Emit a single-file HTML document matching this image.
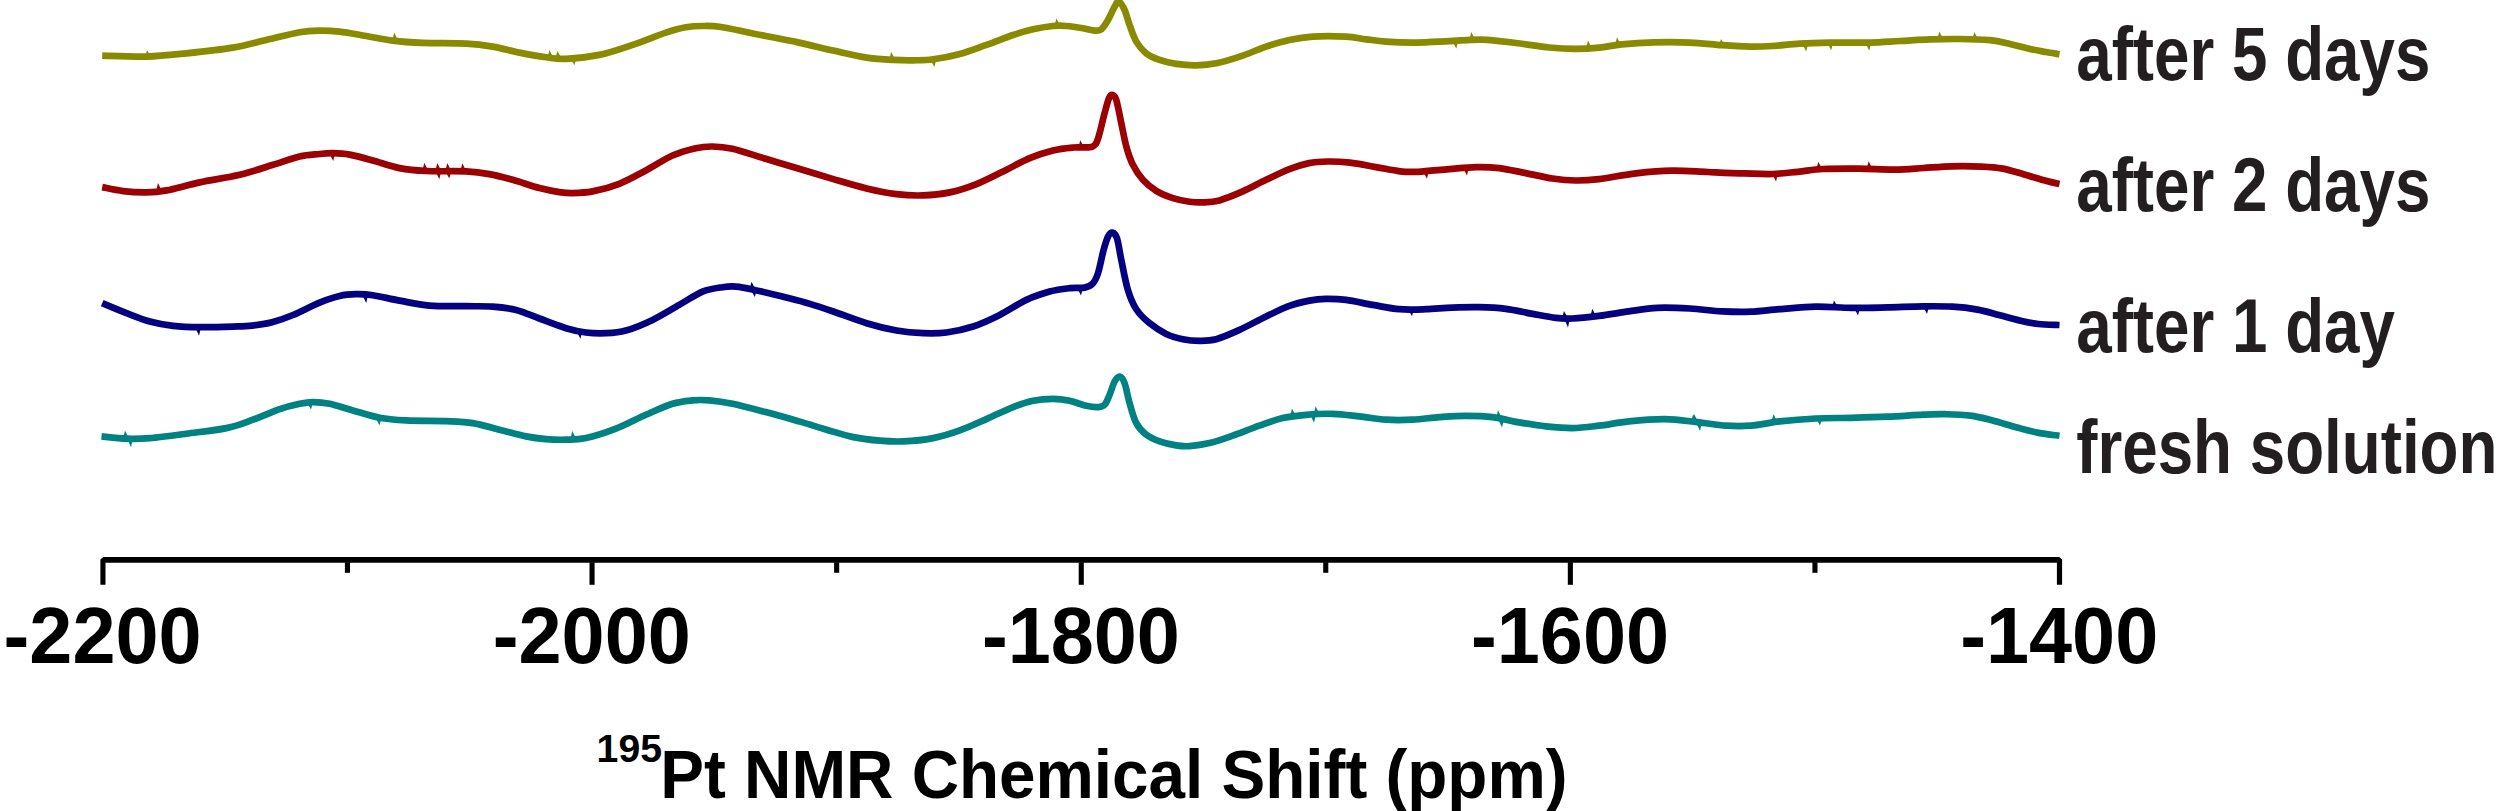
<!DOCTYPE html>
<html><head><meta charset="utf-8"><title>195Pt NMR</title>
<style>
html,body{margin:0;padding:0;background:#fff;}
body{width:2498px;height:811px;overflow:hidden;}
svg{display:block;}
text{font-family:"Liberation Sans",Arial,Helvetica,sans-serif;font-weight:bold;}
</style></head><body>
<svg width="2498" height="811" viewBox="0 0 2498 811">
<rect width="2498" height="811" fill="#fff"/>
<g id="curves">
<path d="M102.2 55.6C109.6 55.8 132.5 57.0 146.5 56.6C160.5 56.2 172.0 54.8 186.4 53.3C200.8 51.8 219.7 49.8 233.0 47.6C246.3 45.4 255.2 42.5 266.3 40.0C277.4 37.5 290.7 33.9 299.6 32.3C308.5 30.7 312.9 30.7 319.6 30.6C326.3 30.5 331.8 30.7 339.6 31.6C347.4 32.5 357.3 34.5 366.2 36.0C375.1 37.5 383.5 39.5 392.9 40.6C402.3 41.8 410.6 42.4 422.8 42.9C435.0 43.4 454.5 43.0 466.1 43.6C477.8 44.2 483.8 45.1 492.7 46.6C501.6 48.1 510.5 50.8 519.4 52.6C528.3 54.4 538.2 56.2 546.0 57.3C553.8 58.3 557.1 59.3 566.0 58.9C574.9 58.5 588.2 57.2 599.3 54.9C610.4 52.6 621.5 48.6 632.6 44.9C643.7 41.2 657.0 35.5 665.9 32.6C674.8 29.7 679.7 28.4 685.8 27.3C691.9 26.2 696.4 26.0 702.5 26.0C708.6 26.0 712.0 25.6 722.5 27.3C733.0 29.0 753.0 33.5 765.7 36.0C778.5 38.5 787.7 40.2 799.0 42.6C810.3 45.0 822.0 48.1 833.3 50.6C844.6 53.1 856.6 56.1 866.6 57.6C876.6 59.1 885.4 59.5 893.2 59.9C901.0 60.3 906.5 60.4 913.2 60.3C919.9 60.2 925.4 60.4 933.2 59.3C941.0 58.2 950.9 56.3 959.8 53.9C968.7 51.5 977.5 48.0 986.4 44.9C995.3 41.8 1005.3 37.6 1013.1 35.0C1020.9 32.4 1026.3 30.8 1033.0 29.3C1039.7 27.8 1047.5 26.6 1053.0 26.0C1058.5 25.4 1061.3 25.6 1066.3 26.0C1071.3 26.4 1078.3 27.5 1083.0 28.3C1087.7 29.1 1091.5 30.4 1094.6 30.6C1097.6 30.8 1099.1 31.1 1101.3 29.3C1103.5 27.5 1105.8 23.8 1108.0 20.0C1110.2 16.2 1112.8 9.8 1114.6 6.7C1116.4 3.6 1117.3 1.1 1119.0 1.7C1120.7 2.2 1122.8 6.1 1124.6 10.0C1126.4 13.9 1127.6 19.7 1129.6 25.0C1131.5 30.3 1133.5 36.9 1136.3 41.6C1139.1 46.3 1142.3 50.2 1146.2 53.3C1150.1 56.3 1154.6 58.1 1159.6 59.9C1164.6 61.7 1170.1 63.0 1176.2 63.9C1182.3 64.8 1189.5 65.4 1196.2 65.3C1202.9 65.2 1208.4 64.9 1216.2 63.3C1224.0 61.7 1234.5 58.4 1242.8 55.6C1251.1 52.8 1258.3 49.2 1266.1 46.6C1273.9 44.0 1281.6 41.7 1289.4 40.0C1297.2 38.3 1303.3 37.2 1312.7 36.6C1322.1 36.0 1337.1 36.2 1346.0 36.6C1354.9 37.0 1359.3 38.5 1366.0 39.3C1372.7 40.1 1377.7 41.0 1386.0 41.6C1394.3 42.2 1405.4 42.7 1415.9 42.6C1426.4 42.5 1438.1 41.7 1449.2 41.2C1460.3 40.7 1471.4 39.3 1482.5 39.6C1493.6 39.9 1504.7 41.7 1515.8 43.0C1526.9 44.3 1539.1 46.5 1549.1 47.5C1559.1 48.5 1567.4 48.9 1575.7 48.9C1584.0 48.9 1591.3 48.5 1599.0 47.7C1606.7 47.0 1612.4 45.3 1621.6 44.4C1630.8 43.5 1642.5 42.7 1653.9 42.4C1665.3 42.1 1678.5 42.1 1689.9 42.6C1701.3 43.1 1712.2 44.5 1722.2 45.2C1732.2 45.9 1741.7 46.5 1750.0 46.6C1758.3 46.7 1763.7 46.5 1772.0 46.0C1780.3 45.5 1790.3 44.2 1800.0 43.6C1809.7 43.0 1818.3 42.8 1830.0 42.6C1841.7 42.4 1858.3 42.9 1870.0 42.6C1881.7 42.3 1890.0 41.5 1900.0 41.0C1910.0 40.5 1920.0 39.7 1930.0 39.4C1940.0 39.1 1950.0 38.9 1960.0 39.0C1970.0 39.1 1981.7 39.4 1990.0 40.2C1998.3 41.0 2003.3 42.5 2010.0 44.0C2016.7 45.5 2024.0 47.7 2030.0 49.0C2036.0 50.3 2040.9 51.1 2045.8 52.0C2050.7 52.9 2057.2 53.8 2059.5 54.2" fill="none" stroke="#8a8a00" stroke-width="6.7" stroke-linejoin="round" stroke-linecap="butt"/>
<path d="M102.2 187.1C105.7 187.8 115.8 190.2 123.2 191.1C130.6 192.0 139.3 192.5 146.5 192.4C153.7 192.3 157.6 192.1 166.5 190.4C175.4 188.7 187.6 185.0 199.8 182.4C212.0 179.8 227.5 177.7 239.7 174.8C251.9 171.9 263.0 167.9 273.0 164.8C283.0 161.8 291.8 158.3 299.6 156.5C307.4 154.7 314.1 154.6 319.6 154.0C325.2 153.4 327.9 153.1 332.9 153.2C337.9 153.3 342.9 153.4 349.6 154.6C356.3 155.8 364.6 158.2 372.9 160.5C381.2 162.8 390.6 166.3 399.5 168.1C408.4 169.8 415.1 170.4 426.2 171.0C437.3 171.6 455.6 170.9 466.1 171.4C476.6 171.9 481.6 172.7 489.4 174.1C497.2 175.5 504.4 177.5 512.7 179.8C521.0 182.1 531.6 186.1 539.4 188.1C547.2 190.1 553.8 191.3 559.3 192.1C564.8 192.9 567.0 193.2 572.6 193.1C578.2 193.0 584.8 192.9 592.6 191.4C600.4 189.9 610.4 187.3 619.3 183.8C628.2 180.3 637.0 175.2 645.9 170.5C654.8 165.8 664.2 159.2 672.5 155.5C680.8 151.8 689.1 149.7 695.8 148.2C702.5 146.7 706.4 146.4 712.5 146.5C718.6 146.6 723.6 146.8 732.5 148.8C741.4 150.9 754.6 155.5 765.7 158.8C776.8 162.1 787.7 165.4 799.0 168.8C810.3 172.2 822.0 175.8 833.3 179.1C844.6 182.4 856.1 185.9 866.6 188.4C877.1 190.9 887.1 192.9 896.5 194.1C905.9 195.3 914.3 195.7 923.2 195.4C932.1 195.1 940.9 194.3 949.8 192.4C958.7 190.5 967.6 187.6 976.5 184.1C985.4 180.6 994.2 175.8 1003.1 171.5C1012.0 167.2 1021.4 161.6 1029.7 158.1C1038.0 154.6 1045.8 152.3 1053.0 150.5C1060.2 148.7 1066.8 148.1 1073.0 147.5C1079.2 146.9 1086.2 147.9 1090.0 147.2C1093.8 146.5 1094.4 145.8 1096.0 143.5C1097.6 141.2 1098.2 138.2 1099.6 133.2C1101.0 128.1 1103.0 119.0 1104.6 113.2C1106.2 107.4 1107.7 101.2 1109.0 98.2C1110.3 95.2 1111.1 94.6 1112.3 94.9C1113.5 95.2 1114.8 95.2 1116.3 99.9C1117.8 104.6 1119.6 115.4 1121.3 123.2C1123.0 131.0 1124.4 139.6 1126.3 146.5C1128.2 153.4 1130.1 159.2 1132.9 164.8C1135.7 170.4 1139.0 175.5 1142.9 179.8C1146.8 184.1 1151.2 187.8 1156.2 190.8C1161.2 193.9 1167.4 196.3 1172.9 198.1C1178.5 199.9 1184.5 201.1 1189.5 201.8C1194.5 202.5 1197.9 202.6 1202.9 202.4C1207.9 202.2 1212.8 202.2 1219.5 200.4C1226.2 198.6 1235.0 194.8 1242.8 191.4C1250.6 188.0 1258.3 183.5 1266.1 179.8C1273.9 176.1 1282.2 171.9 1289.4 169.1C1296.6 166.3 1302.6 164.4 1309.0 163.1C1315.4 161.8 1321.2 161.6 1328.0 161.5C1334.8 161.4 1342.0 161.8 1350.0 162.7C1358.0 163.6 1367.7 165.7 1376.0 167.1C1384.3 168.5 1393.0 170.5 1400.0 171.3C1407.0 172.1 1409.8 172.2 1418.0 171.8C1426.2 171.4 1439.5 169.9 1449.2 169.1C1458.9 168.3 1467.6 167.3 1475.9 167.1C1484.2 166.9 1490.9 167.1 1499.2 168.1C1507.5 169.1 1516.9 171.4 1525.8 173.1C1534.7 174.8 1544.1 177.3 1552.4 178.5C1560.7 179.7 1567.9 180.4 1575.7 180.5C1583.5 180.6 1589.0 180.3 1599.0 179.1C1609.0 177.9 1623.8 174.7 1636.0 173.3C1648.2 171.9 1659.9 170.8 1671.9 170.6C1683.9 170.4 1695.8 171.5 1707.8 172.0C1719.8 172.5 1733.0 173.1 1743.8 173.4C1754.6 173.7 1763.6 174.3 1772.6 174.0C1781.6 173.7 1789.3 172.6 1797.7 171.8C1806.1 171.0 1812.7 169.5 1822.9 169.0C1833.1 168.5 1846.8 168.5 1858.8 168.6C1870.8 168.7 1884.0 169.7 1894.8 169.6C1905.6 169.5 1913.9 168.6 1923.5 168.0C1933.1 167.4 1942.7 166.5 1952.3 166.3C1961.9 166.1 1972.7 166.2 1981.1 166.6C1989.5 167.0 1995.4 167.3 2002.6 168.6C2009.8 169.9 2017.0 172.4 2024.2 174.4C2031.4 176.4 2039.9 179.2 2045.8 180.8C2051.7 182.4 2057.2 183.6 2059.5 184.1" fill="none" stroke="#9b0003" stroke-width="6.7" stroke-linejoin="round" stroke-linecap="butt"/>
<path d="M102.2 303.2C106.2 304.9 118.6 310.1 126.5 313.2C134.4 316.2 142.0 319.4 149.8 321.5C157.6 323.6 164.8 324.9 173.1 325.9C181.4 326.8 189.8 327.1 199.8 327.2C209.8 327.3 224.4 326.9 233.1 326.6C241.8 326.3 245.5 326.3 252.0 325.6C258.5 324.9 265.2 324.1 272.0 322.3C278.8 320.5 285.1 318.3 293.0 315.0C300.9 311.7 311.8 305.8 319.6 302.6C327.4 299.4 333.5 297.3 339.6 295.9C345.7 294.5 350.6 294.3 356.2 294.2C361.8 294.1 365.7 294.1 372.9 295.2C380.1 296.3 390.1 298.9 399.5 300.6C408.9 302.3 418.4 304.7 429.5 305.6C440.6 306.5 455.6 306.0 466.1 306.2C476.6 306.4 484.4 306.0 492.7 306.6C501.0 307.2 508.3 307.9 516.1 309.9C523.9 311.9 531.1 315.4 539.4 318.5C547.7 321.6 558.2 325.9 566.0 328.2C573.8 330.5 579.4 331.7 586.0 332.5C592.6 333.3 599.2 333.5 605.9 333.2C612.5 332.9 618.1 332.7 625.9 330.5C633.7 328.3 643.7 324.2 652.6 319.9C661.5 315.6 670.9 309.6 679.2 304.9C687.5 300.2 695.3 294.6 702.5 291.6C709.7 288.7 717.0 288.0 722.5 287.2C728.0 286.4 730.8 286.2 735.8 286.6C740.8 287.0 744.6 287.7 752.4 289.4C760.2 291.1 773.0 294.2 782.4 296.6C791.8 299.0 800.5 301.1 809.0 303.6C817.5 306.1 823.7 308.2 833.3 311.5C842.9 314.8 856.1 320.0 866.6 323.2C877.1 326.4 887.1 328.8 896.5 330.5C905.9 332.2 914.9 332.9 923.2 333.2C931.5 333.5 938.2 333.6 946.5 332.5C954.8 331.4 964.2 329.4 973.1 326.5C982.0 323.6 990.9 319.3 999.8 314.9C1008.7 310.5 1018.1 303.8 1026.4 299.9C1034.7 296.0 1042.5 293.6 1049.7 291.6C1056.9 289.7 1063.9 288.9 1069.7 288.2C1075.5 287.5 1080.8 288.4 1084.7 287.6C1088.6 286.8 1090.8 285.6 1093.0 283.2C1095.2 280.8 1096.2 278.8 1098.0 273.3C1099.8 267.8 1101.9 256.1 1103.6 250.0C1105.3 243.9 1106.5 239.5 1108.0 236.6C1109.5 233.7 1110.8 232.3 1112.3 232.6C1113.8 232.9 1115.5 233.8 1117.0 238.3C1118.5 242.9 1119.5 251.3 1121.3 259.9C1123.1 268.5 1125.4 281.7 1127.9 289.9C1130.4 298.1 1132.7 303.6 1136.3 309.2C1139.9 314.8 1144.6 319.1 1149.6 323.2C1154.6 327.3 1160.7 331.2 1166.2 333.9C1171.8 336.6 1177.4 338.0 1182.9 339.2C1188.5 340.4 1194.0 340.8 1199.5 340.8C1205.0 340.8 1209.5 341.0 1216.2 339.2C1222.9 337.4 1231.2 333.7 1239.5 329.9C1247.8 326.1 1257.8 320.5 1266.1 316.5C1274.4 312.5 1282.2 308.5 1289.4 305.9C1296.6 303.2 1303.3 301.8 1309.4 300.6C1315.5 299.4 1319.9 299.0 1326.0 298.9C1332.1 298.8 1338.2 298.9 1346.0 299.9C1353.8 300.9 1363.7 303.3 1372.6 304.9C1381.5 306.4 1390.4 308.5 1399.3 309.2C1408.2 309.9 1417.0 309.5 1425.9 309.2C1434.8 308.9 1443.6 307.9 1452.5 307.6C1461.4 307.3 1470.3 307.0 1479.2 307.2C1488.1 307.4 1496.9 307.8 1505.8 308.9C1514.7 310.0 1524.2 312.4 1532.5 313.9C1540.8 315.4 1549.1 317.1 1555.8 317.9C1562.5 318.7 1565.2 318.8 1572.4 318.5C1579.6 318.2 1589.6 317.1 1599.0 315.9C1608.4 314.7 1619.0 312.8 1628.8 311.4C1638.5 310.0 1647.3 308.3 1657.5 307.8C1667.7 307.3 1679.1 307.9 1689.9 308.5C1700.7 309.1 1712.0 310.9 1722.2 311.4C1732.4 311.9 1741.4 312.1 1751.0 311.7C1760.6 311.3 1768.9 310.0 1779.7 309.2C1790.5 308.4 1803.7 306.9 1815.7 306.7C1827.7 306.5 1839.6 307.7 1851.6 307.8C1863.6 307.9 1875.6 307.6 1887.6 307.4C1899.6 307.1 1912.7 306.4 1923.5 306.3C1934.3 306.2 1943.3 306.1 1952.3 306.7C1961.3 307.2 1969.7 308.2 1977.5 309.6C1985.3 311.0 1991.8 313.1 1999.0 315.0C2006.2 316.9 2014.0 319.2 2020.6 320.7C2027.2 322.2 2032.1 323.3 2038.6 324.0C2045.1 324.7 2056.0 324.8 2059.5 325.0" fill="none" stroke="#04007f" stroke-width="6.7" stroke-linejoin="round" stroke-linecap="butt"/>
<path d="M101.5 436.4C105.7 436.8 118.5 438.4 126.5 438.7C134.6 439.0 139.8 438.9 149.8 438.1C159.8 437.3 173.6 435.4 186.4 433.7C199.2 432.0 215.3 430.4 226.4 428.1C237.5 425.8 244.1 422.9 253.0 419.7C261.9 416.5 271.9 411.8 279.7 409.1C287.5 406.5 294.1 405.0 299.6 403.8C305.2 402.6 308.0 402.1 313.0 402.1C318.0 402.1 323.0 402.4 329.6 403.8C336.2 405.2 344.6 408.1 352.9 410.4C361.2 412.7 370.6 416.0 379.5 417.7C388.4 419.4 395.1 419.8 406.2 420.4C417.3 421.0 435.0 420.7 446.1 421.1C457.2 421.6 463.9 421.7 472.8 423.1C481.7 424.5 490.5 427.5 499.4 429.7C508.3 431.9 518.2 434.8 526.0 436.4C533.8 438.0 539.3 438.6 546.0 439.1C552.7 439.7 559.3 439.9 566.0 439.7C572.7 439.5 577.7 439.9 586.0 438.1C594.3 436.3 605.9 432.6 615.9 428.7C625.9 424.8 636.5 418.9 645.9 414.8C655.3 410.7 664.7 406.2 672.5 403.8C680.3 401.4 686.4 401.0 692.5 400.4C698.6 399.8 702.5 399.8 709.2 400.4C715.9 401.0 723.1 401.9 732.5 403.8C741.9 405.8 754.6 409.2 765.7 412.1C776.8 415.0 788.9 418.5 799.0 421.4C809.1 424.3 817.6 427.1 826.6 429.7C835.6 432.3 844.4 435.3 853.3 437.1C862.2 438.9 871.6 440.0 879.9 440.7C888.2 441.4 894.3 441.8 903.2 441.4C912.1 441.0 923.8 439.9 933.2 438.1C942.6 436.3 950.9 433.6 959.8 430.4C968.7 427.2 977.5 423.0 986.4 419.1C995.3 415.2 1005.3 410.2 1013.1 407.1C1020.9 404.1 1026.3 402.2 1033.0 400.8C1039.7 399.4 1046.9 398.8 1053.0 398.8C1059.1 398.8 1064.2 399.6 1069.7 400.8C1075.2 402.0 1081.6 404.8 1086.3 405.8C1091.0 406.9 1095.0 407.3 1098.0 407.1C1101.0 406.9 1102.7 406.9 1104.6 404.8C1106.5 402.8 1107.9 398.7 1109.6 394.8C1111.3 390.9 1112.9 384.6 1114.6 381.5C1116.3 378.4 1117.9 376.2 1119.6 376.5C1121.3 376.8 1122.9 378.7 1124.6 383.1C1126.3 387.5 1127.6 396.4 1129.6 403.1C1131.5 409.8 1133.5 417.8 1136.3 423.1C1139.1 428.4 1142.3 431.6 1146.2 434.7C1150.1 437.8 1154.6 439.6 1159.6 441.4C1164.6 443.2 1171.2 444.6 1176.2 445.4C1181.2 446.2 1184.0 446.5 1189.5 446.1C1195.0 445.7 1202.3 444.8 1209.5 443.1C1216.7 441.4 1224.5 438.6 1232.8 435.7C1241.1 432.8 1251.1 428.6 1259.4 425.7C1267.7 422.8 1274.9 419.9 1282.7 418.1C1290.5 416.3 1297.7 415.5 1306.0 414.8C1314.3 414.1 1323.8 413.5 1332.7 413.8C1341.6 414.1 1350.4 415.4 1359.3 416.4C1368.2 417.4 1377.0 419.1 1385.9 419.7C1394.8 420.2 1403.7 420.1 1412.6 419.7C1421.5 419.3 1430.3 417.8 1439.2 417.1C1448.1 416.5 1457.0 415.8 1465.9 415.8C1474.8 415.8 1483.6 416.0 1492.5 417.1C1501.4 418.2 1510.2 420.8 1519.1 422.4C1528.0 423.9 1536.9 425.4 1545.8 426.4C1554.7 427.3 1563.5 428.2 1572.4 428.1C1581.3 428.0 1589.6 426.8 1599.0 425.7C1608.4 424.6 1617.8 422.5 1628.8 421.4C1639.8 420.3 1653.3 419.1 1664.7 419.2C1676.1 419.3 1686.9 421.0 1697.1 422.1C1707.3 423.2 1716.8 425.1 1725.8 425.7C1734.8 426.3 1742.0 426.4 1751.0 425.7C1760.0 425.0 1768.9 422.6 1779.7 421.4C1790.5 420.2 1803.7 419.1 1815.7 418.5C1827.7 417.9 1839.6 418.1 1851.6 417.8C1863.6 417.5 1875.6 417.2 1887.6 416.7C1899.6 416.2 1913.9 415.0 1923.5 414.6C1933.1 414.2 1937.3 414.0 1945.1 414.2C1952.9 414.4 1962.5 414.6 1970.3 415.6C1978.1 416.6 1984.1 418.3 1991.9 420.3C1999.7 422.3 2009.2 425.4 2017.0 427.5C2024.8 429.6 2031.5 431.5 2038.6 432.9C2045.7 434.3 2056.0 435.3 2059.5 435.8" fill="none" stroke="#008282" stroke-width="6.7" stroke-linejoin="round" stroke-linecap="butt"/>
<path d="M145.0 56.5 L151.0 56.5 L147.0 50.3 ZM392.2 40.8 L398.2 40.8 L394.2 32.6 ZM547.4 57.7 L553.4 57.7 L549.4 50.0 ZM555.4 58.3 L561.4 58.3 L557.4 51.1 ZM570.4 58.0 L576.4 58.0 L574.4 65.2 ZM889.2 59.8 L895.2 59.8 L891.2 51.7 ZM930.3 59.3 L936.3 59.3 L934.3 66.9 ZM1054.4 26.0 L1060.4 26.0 L1056.4 18.4 ZM1469.3 40.1 L1475.3 40.1 L1471.3 31.9 ZM1452.3 40.9 L1458.3 40.9 L1456.3 48.6 ZM1586.0 48.2 L1592.0 48.2 L1588.0 40.6 ZM1615.0 44.9 L1621.0 44.9 L1617.0 37.3 ZM1719.0 45.2 L1725.0 45.2 L1721.0 39.0 ZM1802.2 43.4 L1808.2 43.4 L1806.2 51.6 ZM1827.2 42.6 L1833.2 42.6 L1831.2 50.2 ZM1865.2 42.6 L1871.2 42.6 L1869.2 50.8 ZM1937.3 39.3 L1943.3 39.3 L1939.3 31.6 ZM1972.3 39.6 L1978.3 39.6 L1974.3 32.0 Z" fill="#8a8a00"/>
<path d="M156.0 191.2 L162.0 191.2 L158.0 183.0 ZM329.2 153.2 L335.2 153.2 L333.2 160.9 ZM422.3 170.9 L428.3 170.9 L424.3 162.8 ZM435.3 171.1 L441.3 171.1 L437.3 163.0 ZM435.3 171.1 L441.3 171.1 L439.3 179.3 ZM445.3 171.2 L451.3 171.2 L447.3 163.1 ZM445.3 171.2 L451.3 171.2 L449.3 178.4 ZM460.3 171.4 L466.3 171.4 L462.3 163.2 ZM1078.3 147.4 L1084.3 147.4 L1080.3 140.2 ZM1422.9 171.1 L1428.9 171.1 L1426.9 178.8 ZM1462.9 167.8 L1468.9 167.8 L1466.9 175.5 ZM1816.3 169.4 L1822.3 169.4 L1818.3 161.8 ZM1866.6 168.9 L1872.6 168.9 L1868.6 161.2 ZM1772.0 173.8 L1778.0 173.8 L1776.0 181.4 Z" fill="#9b0003"/>
<path d="M195.0 327.1 L201.0 327.1 L199.0 335.8 ZM362.2 294.7 L368.2 294.7 L366.2 302.9 ZM576.4 331.1 L582.4 331.1 L580.4 338.7 ZM749.5 289.4 L755.5 289.4 L751.5 281.8 ZM750.8 289.7 L756.8 289.7 L754.8 296.9 ZM1077.0 287.8 L1083.0 287.8 L1081.0 295.4 ZM1408.0 309.2 L1414.0 309.2 L1412.0 316.3 ZM1562.0 318.2 L1568.0 318.2 L1564.0 311.1 ZM1564.0 318.3 L1570.0 318.3 L1568.0 327.5 ZM1590.3 316.5 L1596.3 316.5 L1592.3 308.8 ZM1854.0 307.7 L1860.0 307.7 L1858.0 315.4 ZM1923.0 306.3 L1929.0 306.3 L1927.0 314.0 ZM1832.0 307.3 L1838.0 307.3 L1834.0 300.6 Z" fill="#04007f"/>
<path d="M123.0 438.7 L129.0 438.7 L125.0 430.5 ZM127.0 438.6 L133.0 438.6 L131.0 447.3 ZM307.0 402.5 L313.0 402.5 L311.0 409.6 ZM375.5 417.4 L381.5 417.4 L379.5 425.6 ZM570.3 439.1 L576.3 439.1 L572.3 431.0 ZM1290.0 416.6 L1296.0 416.6 L1292.0 408.5 ZM1313.6 414.4 L1319.6 414.4 L1315.6 406.3 ZM1310.0 414.5 L1316.0 414.5 L1314.0 422.7 ZM1496.0 418.4 L1502.0 418.4 L1498.0 410.2 ZM1498.0 418.8 L1504.0 418.8 L1502.0 427.4 ZM1692.0 421.9 L1698.0 421.9 L1694.0 413.8 ZM1696.0 422.3 L1702.0 422.3 L1700.0 431.0 ZM1771.4 422.2 L1777.4 422.2 L1773.4 414.0 ZM1691.0 421.8 L1697.0 421.8 L1693.0 414.7 ZM1816.0 418.4 L1822.0 418.4 L1820.0 425.6 Z" fill="#008282"/>
</g>
<g id="axis" fill="#000" stroke="none">
<path d="M100.4 584.8L100.4 559.6L103.3 557.0L2059.1 557.0L2062.1 559.6L2062.1 584.8L2056.9 584.8L2056.9 562.8L105.5 562.8L105.5 584.8Z"/><rect x="344.9" y="562.3" width="5.1" height="10.5"/><rect x="589.5" y="562.3" width="5.1" height="22.5"/><rect x="834.1" y="562.3" width="5.1" height="10.5"/><rect x="1078.7" y="562.3" width="5.1" height="22.5"/><rect x="1323.2" y="562.3" width="5.1" height="10.5"/><rect x="1567.8" y="562.3" width="5.1" height="22.5"/><rect x="1812.4" y="562.3" width="5.1" height="10.5"/>
</g>
<g id="ticklabels" font-size="80" fill="#000">
<text transform="translate(102.6 662.6) scale(0.968 1)" text-anchor="middle">-2200</text><text transform="translate(591.8 662.6) scale(0.968 1)" text-anchor="middle">-2000</text><text transform="translate(1080.9 662.6) scale(0.968 1)" text-anchor="middle">-1800</text><text transform="translate(1570.0 662.6) scale(0.968 1)" text-anchor="middle">-1600</text><text transform="translate(2059.2 662.6) scale(0.968 1)" text-anchor="middle">-1400</text>
</g>
<g id="legend" font-size="76.5" fill="#231f20">
<text transform="translate(2076.2 80.1) scale(0.833 1)">after 5 days</text><text transform="translate(2076.2 211.1) scale(0.833 1)">after 2 days</text><text transform="translate(2076.2 351.7) scale(0.833 1)">after 1 day</text><text transform="translate(2076.2 472.5) scale(0.833 1)">fresh solution</text>
</g>
<g id="title" fill="#000">
<text x="596.6" y="761.6" font-size="39.2">195</text>
<text transform="translate(660.2 798.3) scale(1 1.048)" font-size="65.6">Pt NMR Chemical Shift (ppm)</text>
</g>
</svg>
</body></html>
